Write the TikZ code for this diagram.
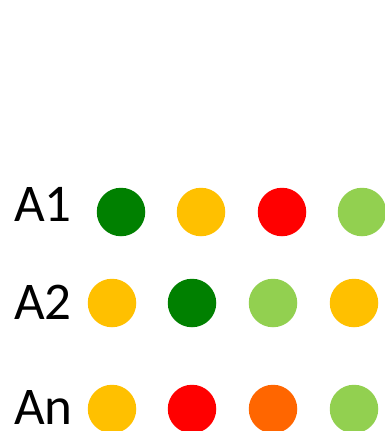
\documentclass[tikz,border=0pt]{standalone}
\usepackage{fontspec}
\setmainfont{Carlito}
\definecolor{dgreen}{HTML}{008000}
\definecolor{amber}{HTML}{FFC000}
\definecolor{bred}{HTML}{FF0000}
\definecolor{lgreen}{HTML}{92D050}
\definecolor{orng}{HTML}{FF6600}
\begin{document}
\begin{tikzpicture}[x=1pt,y=1pt,
  dot/.style={circle,inner sep=0pt,minimum size=48.5pt,fill=#1,draw=none},
  lbl/.style={anchor=base west,inner sep=0pt,font=\fontsize{53}{60}\selectfont}]
\clip (0,0) rectangle (385,-431);
\fill[white] (0,0) rectangle (385,-431);
\node[lbl] (l1) at (14,-221) {A1};
\node[lbl] (l2) at (14,-319) {A2};
\node[lbl] (l3) at (14,-424) {An};
\node[dot=dgreen] (a11) at (121,-212) {};
\node[dot=amber]  (a12) at (201,-212) {};
\node[dot=bred]   (a13) at (282,-212) {};
\node[dot=lgreen] (a14) at (362,-212) {};
\node[dot=amber]  (a21) at (112,-303) {};
\node[dot=dgreen] (a22) at (192,-303) {};
\node[dot=lgreen] (a23) at (273,-303) {};
\node[dot=amber]  (a24) at (354,-303) {};
\node[dot=amber]  (a31) at (112,-409) {};
\node[dot=bred]   (a32) at (192,-409) {};
\node[dot=orng]   (a33) at (273,-409) {};
\node[dot=lgreen] (a34) at (354,-409) {};
\end{tikzpicture}
\end{document}
